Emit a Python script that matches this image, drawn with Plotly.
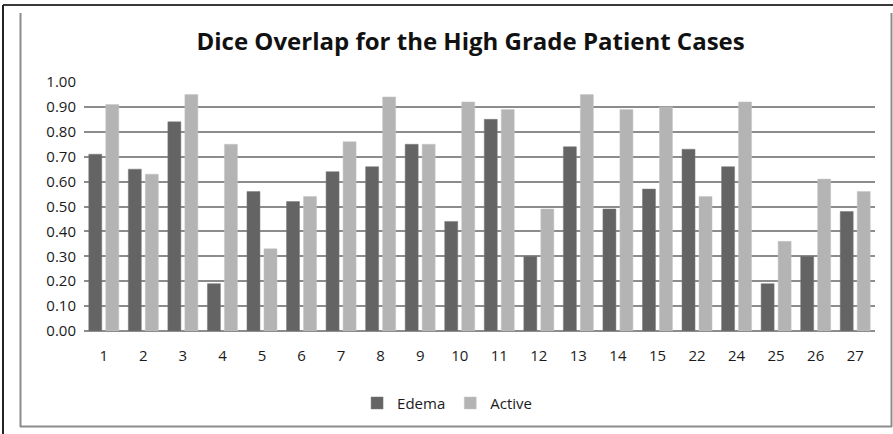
import plotly.graph_objects as go

# patient case numbers on the x axis
cases = ["1", "2", "3", "4", "5", "6", "7", "8", "9", "10",
         "11", "12", "13", "14", "15", "22", "24", "25", "26", "27"]

edema = [0.71, 0.65, 0.84, 0.19, 0.56, 0.52, 0.64, 0.66, 0.75, 0.44,
         0.85, 0.30, 0.74, 0.49, 0.57, 0.73, 0.66, 0.19, 0.30, 0.48]
active = [0.91, 0.63, 0.95, 0.75, 0.33, 0.54, 0.76, 0.94, 0.75, 0.92,
          0.89, 0.49, 0.95, 0.89, 0.90, 0.54, 0.92, 0.36, 0.61, 0.56]

y_ticks = [i / 10 for i in range(11)]
y_labels = ["%.2f" % v for v in y_ticks]

W, H = 893, 434
font = "Open Sans"

fig = go.Figure()
fig.add_trace(go.Bar(x=cases, y=edema, name="Edema",
                     marker=dict(color="#646464", line=dict(color="#7a7a7a", width=0.5))))
fig.add_trace(go.Bar(x=cases, y=active, name="Active",
                     marker=dict(color="#b4b4b4", line=dict(color="#c4c4c4", width=0.5))))

# frame lines of the screenshot and the chart area border
lines = [
    (3, 5, W, 5, "#3a3a3a", 2),
    (3, 5, 3, H, "#222222", 2),
    (20.5, 13, 20.5, 427, "#8c8c8c", 2),
    (891.5, 13, 891.5, 427, "#8c8c8c", 2),
    (20, 426.5, 892, 426.5, "#8c8c8c", 2),
]
for x0, y0, x1, y1, c, w in lines:
    fig.add_shape(type="line", xref="paper", yref="paper",
                  x0=(x0 - 84) / (875 - 84), x1=(x1 - 84) / (875 - 84),
                  y0=(H - 103 - y0) / (H - 82 - 103), y1=(H - 103 - y1) / (H - 82 - 103),
                  line=dict(color=c, width=w), layer="above")

fig.update_layout(
    width=W, height=H,
    margin=dict(l=84, r=18, t=82, b=103),
    paper_bgcolor="white", plot_bgcolor="white",
    barmode="group", bargap=0.14, bargroupgap=0.235,
    font=dict(family=font, size=15, color="#1a1a1a"),
    title=dict(text="<b>Dice Overlap for the High Grade Patient Cases</b>",
               font=dict(family=font, size=24, color="#111111"),
               x=0.527, xanchor="center", y=0.905, yanchor="middle"),
    xaxis=dict(type="category", showgrid=False, ticks="", ticklabelstandoff=14,
               showline=False, zeroline=False),
    yaxis=dict(range=[0, 1], tickvals=y_ticks, ticktext=y_labels,
               showgrid=True, gridcolor="#8c8c8c", gridwidth=2,
               zeroline=True, zerolinecolor="#8c8c8c", zerolinewidth=2,
               showline=False, ticks="", ticklabelstandoff=7),
    legend=dict(orientation="h", x=0.459, xanchor="center", y=-0.29, yanchor="middle",
                font=dict(size=15), itemwidth=30, traceorder="normal"),
)

fig.write_html("out.html", config={"displayModeBar": False},
               post_script="document.body.style.margin='0';")
